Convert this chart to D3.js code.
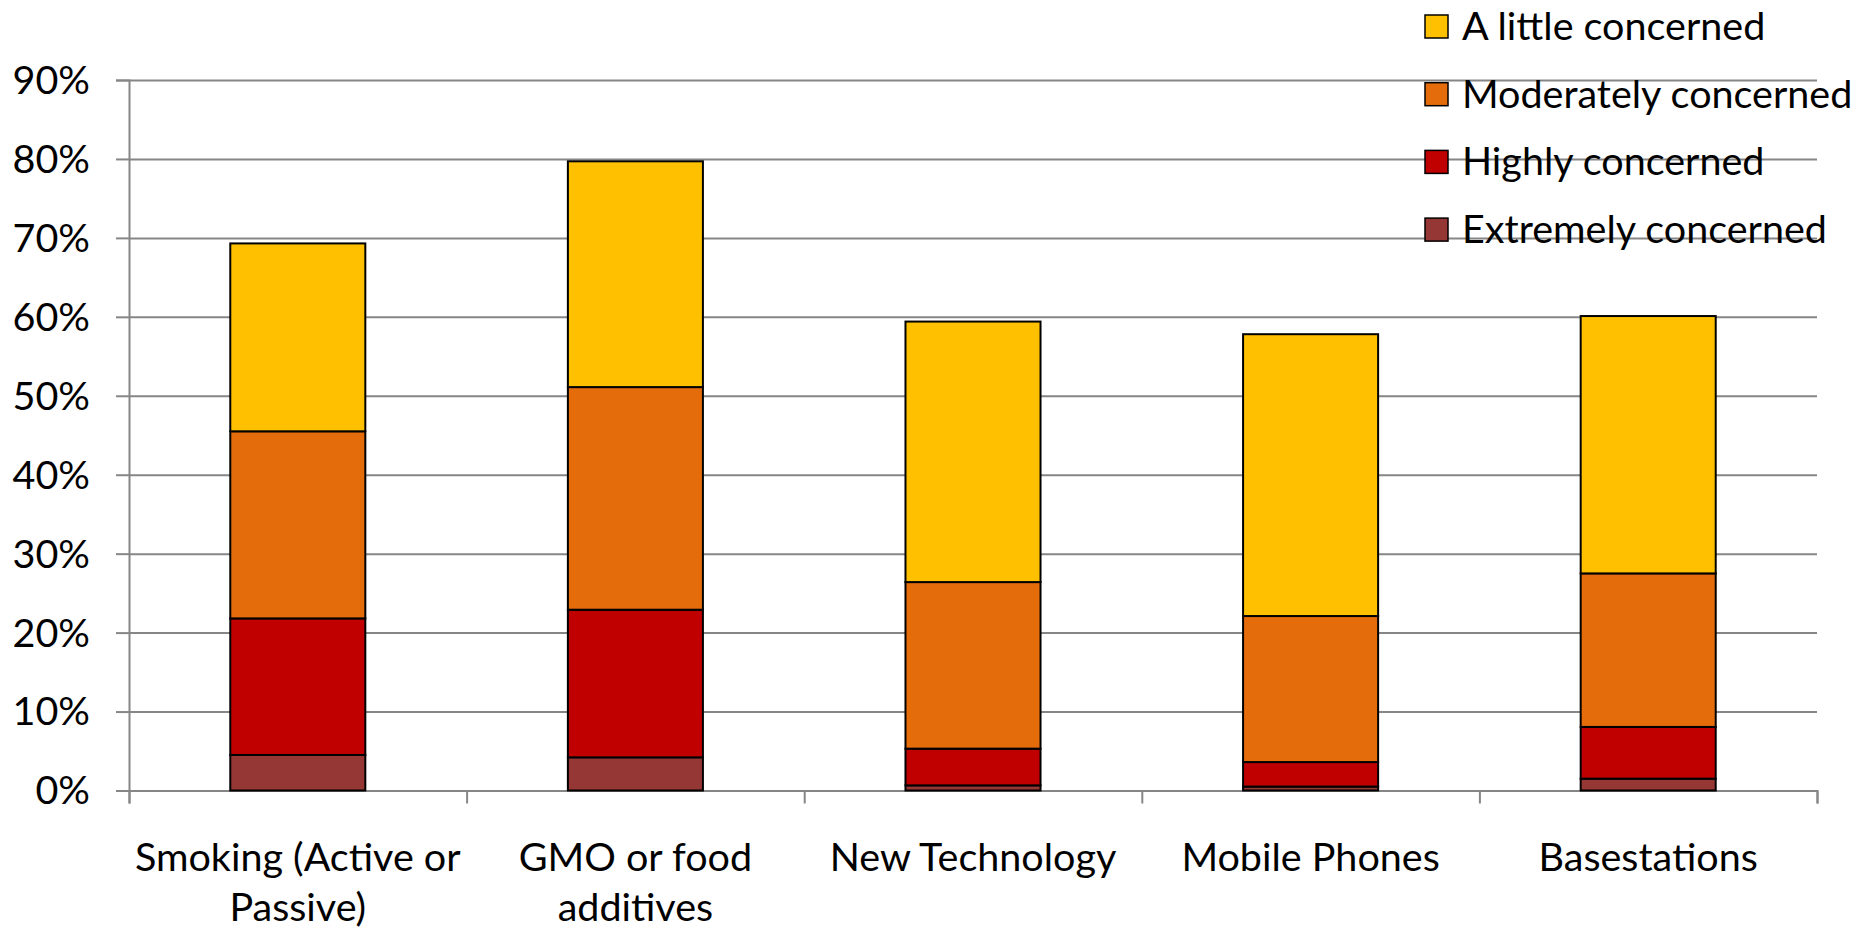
<!DOCTYPE html>
<html>
<head>
<meta charset="utf-8">
<script src="https://cdn.jsdelivr.net/npm/d3@7"></script>
<style>
  body { margin: 0; background: #fff; }
  text { font-family: Lato, "Open Sans", sans-serif; fill: #000; }
</style>
</head>
<body>
<div id="chart"></div>
<script>
// categories and their wrapped tick labels
var categories = ["Smoking (Active or Passive)", "GMO or food additives", "New Technology", "Mobile Phones", "Basestations"];
var categoryLines = [["Smoking (Active or", "Passive)"], ["GMO or food", "additives"], ["New Technology"], ["Mobile Phones"], ["Basestations"]];

// series values in percent, bottom of the stack first
var extremely = [4.5, 4.2, 0.65, 0.5, 1.5];
var highly = [17.3, 18.7, 4.65, 3.1, 6.55];
var moderately = [23.7, 28.2, 21.1, 18.5, 19.45];
var aLittle = [23.8, 28.6, 33.0, 35.7, 32.6];

var seriesNames = ["Extremely concerned", "Highly concerned", "Moderately concerned", "A little concerned"];
var seriesColors = ["#953735", "#C00000", "#E46C0A", "#FFC000"];
var yTicks = [0, 10, 20, 30, 40, 50, 60, 70, 80, 90];

var W = 1867, H = 930;
var margin = { top: 80, right: 50, bottom: 140, left: 129 },
  width = 1817 - margin.left,
  height = 790.5 - margin.top;
var fontSize = 39.5;

var svg = d3.select("#chart")
  .append("svg")
  .attr("width", W)
  .attr("height", H);

var g = svg.append("g")
  .attr("transform", "translate(" + margin.left + "," + margin.top + ")");

var rows = categories.map(function (c, i) {
  return { cat: c, e: extremely[i], h: highly[i], m: moderately[i], l: aLittle[i] };
});
var stacked = d3.stack().keys(["e", "h", "m", "l"])(rows);

var x = d3.scaleBand()
  .domain(categories)
  .range([0, width])
  .paddingInner(0.6)
  .paddingOuter(0.3);

var y = d3.scaleLinear()
  .domain([0, 90])
  .range([height, 0]);

// gridlines
g.append("g")
  .attr("class", "grid")
  .call(d3.axisLeft(y).tickValues(yTicks).tickSize(-width).tickFormat(""))
  .call(function (s) {
    s.select(".domain").remove();
    s.selectAll("line").attr("stroke", "#868686").attr("stroke-width", 2);
  });

// y axis with outward ticks and labels
g.append("g")
  .call(d3.axisLeft(y).tickValues(yTicks).tickSize(13).tickPadding(26)
    .tickFormat(function (d) { return d + "%"; }))
  .call(function (s) {
    s.select(".domain").attr("stroke", "#868686").attr("stroke-width", 2);
    s.selectAll("line").attr("stroke", "#868686").attr("stroke-width", 2);
    s.selectAll("text").attr("font-size", fontSize).attr("font-family", null).attr("dy", "0.34em");
  });

// x axis: tick marks between categories
var xb = d3.scaleLinear().domain([0, categories.length]).range([0, width]);
g.append("g")
  .attr("transform", "translate(0," + height + ")")
  .call(d3.axisBottom(xb).tickValues(d3.range(categories.length + 1)).tickSize(13).tickFormat(""))
  .call(function (s) {
    s.select(".domain").attr("stroke", "#868686").attr("stroke-width", 2);
    s.selectAll("line").attr("stroke", "#868686").attr("stroke-width", 2);
  });

// x labels
var lab = g.append("g")
  .selectAll("text")
  .data(categories)
  .enter()
  .append("text")
  .attr("text-anchor", "middle")
  .attr("font-size", fontSize)
  .attr("transform", function (d) { return "translate(" + (x(d) + x.bandwidth() / 2) + "," + (height + 80) + ")"; });
lab.selectAll("tspan")
  .data(function (d, i) { return categoryLines[i]; })
  .enter()
  .append("tspan")
  .attr("x", 0)
  .attr("y", function (d, i) { return i * 50; })
  .text(function (d) { return d; });

// bars
g.selectAll("g.layer")
  .data(stacked)
  .enter()
  .append("g")
  .attr("class", "layer")
  .attr("fill", function (d, i) { return seriesColors[i]; })
  .selectAll("rect")
  .data(function (d) { return d; })
  .enter()
  .append("rect")
  .attr("x", function (d) { return x(d.data.cat); })
  .attr("y", function (d) { return y(d[1]); })
  .attr("width", x.bandwidth())
  .attr("height", function (d) { return y(d[0]) - y(d[1]); })
  .attr("stroke", "#000")
  .attr("stroke-width", 2);

// legend, top series first
var legend = svg.append("g")
  .attr("transform", "translate(1425,27)");
var legendOrder = [3, 2, 1, 0];
var item = legend.selectAll("g")
  .data(legendOrder)
  .enter()
  .append("g")
  .attr("transform", function (d, i) { return "translate(0," + (i * 67.7) + ")"; });
item.append("rect")
  .attr("x", 0)
  .attr("y", -12)
  .attr("width", 23)
  .attr("height", 23)
  .attr("fill", function (d) { return seriesColors[d]; })
  .attr("stroke", "#000")
  .attr("stroke-width", 1.5);
item.append("text")
  .attr("x", 37)
  .attr("y", 13)
  .attr("font-size", fontSize)
  .text(function (d) { return seriesNames[d]; });
</script>
</body>
</html>
